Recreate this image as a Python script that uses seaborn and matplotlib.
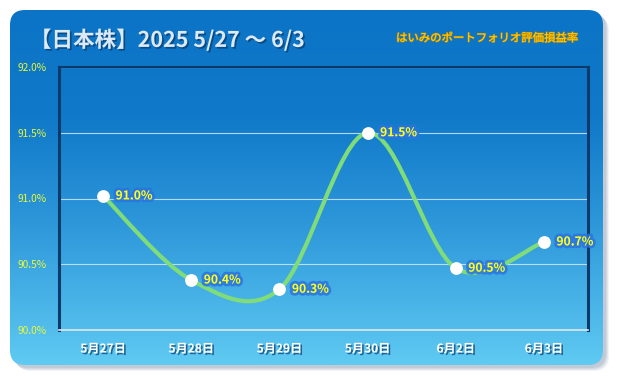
import numpy as np
import pandas as pd
import matplotlib
matplotlib.use("Agg")
import matplotlib.pyplot as plt
import matplotlib.patheffects as pe
from matplotlib.patches import FancyBboxPatch, PathPatch
from matplotlib.path import Path
from matplotlib.colors import LinearSegmentedColormap
import seaborn as sns

# data
dates = ["5月27日", "5月28日", "5月29日", "5月30日", "6月2日", "6月3日"]
rates = [91.02, 90.38, 90.31, 91.50, 90.47, 90.67]
y_ticks = [90.0, 90.5, 91.0, 91.5, 92.0]
title = "【日本株】2025 5/27 ～ 6/3"
subtitle = "はいみのポートフォリオ評価損益率"

df = pd.DataFrame({"date": dates, "rate": rates})
df["pos"] = np.arange(len(df))

sns.set_theme(style="white")
plt.rcParams["font.family"] = ["Noto Sans CJK JP", "DejaVu Sans"]

W, H = 617, 380
fig = plt.figure(figsize=(W / 100, H / 100), dpi=100, facecolor="white")

# background card with gradient
bg = fig.add_axes([0, 0, 1, 1])
bg.set_xlim(0, W)
bg.set_ylim(H, 0)
bg.axis("off")

for off, a in [(6, 0.10), (5, 0.12), (4, 0.15), (3, 0.18)]:
    sh = FancyBboxPatch((10 + off, 10 + off), 593, 355,
                        boxstyle="round,pad=0,rounding_size=15",
                        fc="#7a8ea8", ec="none", alpha=a)
    bg.add_patch(sh)

card = FancyBboxPatch((10, 10), 593, 355, boxstyle="round,pad=0,rounding_size=15",
                      fc="none", ec="none")
bg.add_patch(card)
cmap = LinearSegmentedColormap.from_list(
    "card", [(0.0, "#0c74c6"), (0.3, "#1079c9"), (0.6, "#2d97da"), (1.0, "#5fcaf2")])
grad = np.linspace(0, 1, 256).reshape(-1, 1)
im = bg.imshow(grad, cmap=cmap, aspect="auto", extent=(10, 603, 365, 10), zorder=1)
im.set_clip_path(card)

shadow_dark = [pe.withSimplePatchShadow(offset=(1.2, -1.2), shadow_rgbFace="#083a6a", alpha=0.7)]
bg.text(30, 40, title, fontsize=15.5, fontweight="bold", color="#dce9f7",
        va="center", ha="left", zorder=3, path_effects=shadow_dark)
bg.text(578, 38, subtitle, fontsize=8.2, style="italic", color="#ffd21a",
        va="center", ha="right", zorder=3,
        path_effects=[pe.withStroke(linewidth=0.8, foreground="#c08a00")])

# main plot
ax = fig.add_axes([59 / W, (H - 330) / H, (588 - 59) / W, (330 - 67) / H])
ax.set_facecolor("none")

# smooth line (catmull-rom drawn as bezier curves)
pts = df[["pos", "rate"]].to_numpy(dtype=float)
ext = np.vstack([pts[0], pts, pts[-1]])
verts = [tuple(pts[0])]
codes = [Path.MOVETO]
for i in range(len(pts) - 1):
    p0, p1, p2, p3 = ext[i], ext[i + 1], ext[i + 2], ext[i + 3]
    c1 = p1 + (p2 - p0) / 6
    c2 = p2 - (p3 - p1) / 6
    verts += [tuple(c1), tuple(c2), tuple(p2)]
    codes += [Path.CURVE4] * 3
ax.add_patch(PathPatch(Path(verts, codes), fc="none", ec="#7fdc78", lw=3.0,
                       capstyle="round", zorder=3))

sns.scatterplot(data=df, x="pos", y="rate", ax=ax, s=85, color="white",
                edgecolor="white", linewidth=0, zorder=4)

glow = [pe.withStroke(linewidth=4, foreground="#2a74e0", alpha=0.85)]
for _, r in df.iterrows():
    ax.annotate(f"{r['rate']:.1f}%", (r["pos"], r["rate"]), xytext=(9, 0),
                textcoords="offset points", va="center", ha="left",
                fontsize=8.7, fontweight="bold", color="#ffff1a",
                path_effects=glow, zorder=5)

ax.set_xlim(-0.5, len(dates) - 0.5)
ax.set_ylim(y_ticks[0], y_ticks[-1])
ax.set_yticks(y_ticks)
ax.set_yticklabels([f"{v:.1f}%" for v in y_ticks], fontsize=7.3, color="#e8f83a")
ax.set_xticks(df["pos"])
ax.set_xticklabels(dates, fontsize=8.7, fontweight="bold", color="white")
for t in ax.get_xticklabels():
    t.set_path_effects(shadow_dark)
ax.set_xticks(np.arange(-0.5, len(dates)), minor=True)
ax.tick_params(axis="x", which="major", length=0, pad=9)
ax.tick_params(axis="x", which="minor", length=5, width=1, color="#e0eaf0", direction="out")
ax.tick_params(axis="y", length=0, pad=9)
ax.set_xlabel("")
ax.set_ylabel("")

for v in y_ticks[1:]:
    ax.axhline(v, color="#c8e4fa", lw=0.8, alpha=0.9, zorder=1)

for side in ["left", "right"]:
    ax.spines[side].set_color("#0b3a6b")
    ax.spines[side].set_linewidth(2.2)
ax.spines["top"].set_color("#0b3a6b")
ax.spines["top"].set_linewidth(1.5)
ax.spines["bottom"].set_color("#dfe8ee")
ax.spines["bottom"].set_linewidth(1.2)

fig.savefig("out.png", dpi=100, facecolor="white")
